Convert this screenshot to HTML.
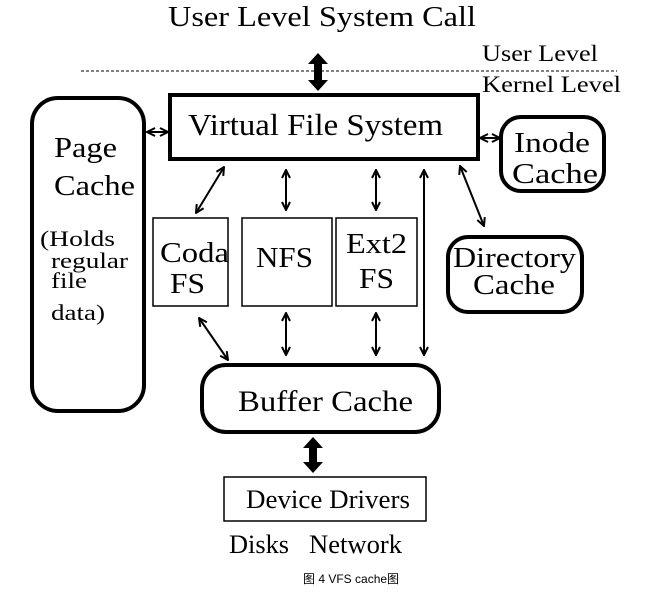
<!DOCTYPE html>
<html><head><meta charset="utf-8"><style>
html,body{margin:0;padding:0;background:#fff;}
svg{display:block;}
text{font-family:"Liberation Serif",serif;fill:#000;}
</style></head><body>
<svg width="650" height="593" viewBox="0 0 650 593" xmlns="http://www.w3.org/2000/svg">
<defs>
<marker id="a" markerWidth="10" markerHeight="10" refX="9" refY="5" orient="auto-start-reverse" markerUnits="userSpaceOnUse">
<path d="M1,1 L9,5 L1,9" fill="none" stroke="#000" stroke-width="2"/>
</marker>
</defs>
<text x="168" y="26" font-size="28" textLength="308" lengthAdjust="spacingAndGlyphs">User Level System Call</text>
<text x="482" y="61" font-size="23" textLength="116" lengthAdjust="spacingAndGlyphs">User Level</text>
<text x="482" y="92" font-size="23" textLength="139" lengthAdjust="spacingAndGlyphs">Kernel Level</text>
<line x1="81" y1="71" x2="617" y2="71" stroke="#000" stroke-width="1" stroke-dasharray="3,2"/>
<g fill="#000">
<path d="M318,53 L328,64 L322,64 L322,80 L328,80 L318,91 L308,80 L314,80 L314,64 L308,64 Z"/>
<path d="M313,437 L323,448 L317,448 L317,462 L323,462 L313,473 L303,462 L309,462 L309,448 L303,448 Z"/>
</g>
<rect x="170" y="95" width="308" height="64" fill="none" stroke="#000" stroke-width="4"/>
<text x="188" y="135" font-size="31" textLength="255" lengthAdjust="spacingAndGlyphs">Virtual File System</text>
<rect x="32" y="98" width="112" height="313" rx="26" fill="none" stroke="#000" stroke-width="4"/>
<text x="54" y="157" font-size="28" textLength="63" lengthAdjust="spacingAndGlyphs">Page</text>
<text x="54" y="195" font-size="28" textLength="81" lengthAdjust="spacingAndGlyphs">Cache</text>
<text x="40" y="246" font-size="22" textLength="75" lengthAdjust="spacingAndGlyphs">(Holds</text>
<text x="51" y="268" font-size="22" textLength="77" lengthAdjust="spacingAndGlyphs">regular</text>
<text x="51" y="288" font-size="22" textLength="36" lengthAdjust="spacingAndGlyphs">file</text>
<text x="51" y="320" font-size="22" textLength="54" lengthAdjust="spacingAndGlyphs">data)</text>
<rect x="501" y="117" width="103" height="74" rx="20" fill="none" stroke="#000" stroke-width="4"/>
<text x="514" y="152" font-size="28" textLength="76" lengthAdjust="spacingAndGlyphs">Inode</text>
<text x="512" y="183" font-size="28" textLength="86" lengthAdjust="spacingAndGlyphs">Cache</text>
<rect x="448" y="237" width="134" height="75" rx="20" fill="none" stroke="#000" stroke-width="4"/>
<text x="453" y="267" font-size="28" textLength="123" lengthAdjust="spacingAndGlyphs">Directory</text>
<text x="473" y="294" font-size="28" textLength="82" lengthAdjust="spacingAndGlyphs">Cache</text>
<rect x="153" y="218" width="75" height="88" fill="none" stroke="#000" stroke-width="1.5"/>
<text x="160" y="262" font-size="29" textLength="69" lengthAdjust="spacingAndGlyphs">Coda</text>
<text x="170" y="293" font-size="29" textLength="35" lengthAdjust="spacingAndGlyphs">FS</text>
<rect x="242" y="218" width="90" height="88" fill="none" stroke="#000" stroke-width="1.5"/>
<text x="256" y="267" font-size="29" textLength="57" lengthAdjust="spacingAndGlyphs">NFS</text>
<rect x="336" y="218" width="81" height="88" fill="none" stroke="#000" stroke-width="1.5"/>
<text x="346" y="253" font-size="29" textLength="61" lengthAdjust="spacingAndGlyphs">Ext2</text>
<text x="359" y="288" font-size="29" textLength="35" lengthAdjust="spacingAndGlyphs">FS</text>
<rect x="202" y="365" width="237" height="67" rx="24" fill="none" stroke="#000" stroke-width="4"/>
<text x="238" y="411" font-size="30" textLength="175" lengthAdjust="spacingAndGlyphs">Buffer Cache</text>
<rect x="224" y="477" width="202" height="44" fill="none" stroke="#000" stroke-width="1.5"/>
<text x="246" y="508" font-size="26" textLength="164" lengthAdjust="spacingAndGlyphs">Device Drivers</text>
<text x="229" y="553" font-size="26" textLength="60" lengthAdjust="spacingAndGlyphs">Disks</text>
<text x="309" y="553" font-size="26" textLength="93" lengthAdjust="spacingAndGlyphs">Network</text>
<text x="303" y="583" font-size="12" style="font-family:'Liberation Sans','Noto Sans CJK SC',sans-serif">图 4  VFS cache图</text>
<g stroke="#000" stroke-width="2" fill="none" marker-start="url(#a)" marker-end="url(#a)">
<line x1="147" y1="132" x2="168" y2="132"/>
<line x1="480" y1="138" x2="500" y2="138"/>
<line x1="224" y1="167" x2="196" y2="213"/>
<line x1="286" y1="170" x2="286" y2="210"/>
<line x1="376" y1="170" x2="376" y2="210"/>
<line x1="424" y1="170" x2="424" y2="355"/>
<line x1="460" y1="166" x2="484" y2="226"/>
<line x1="199" y1="318" x2="228" y2="360"/>
<line x1="286" y1="313" x2="286" y2="355"/>
<line x1="376" y1="313" x2="376" y2="355"/>
</g>
</svg>
</body></html>
